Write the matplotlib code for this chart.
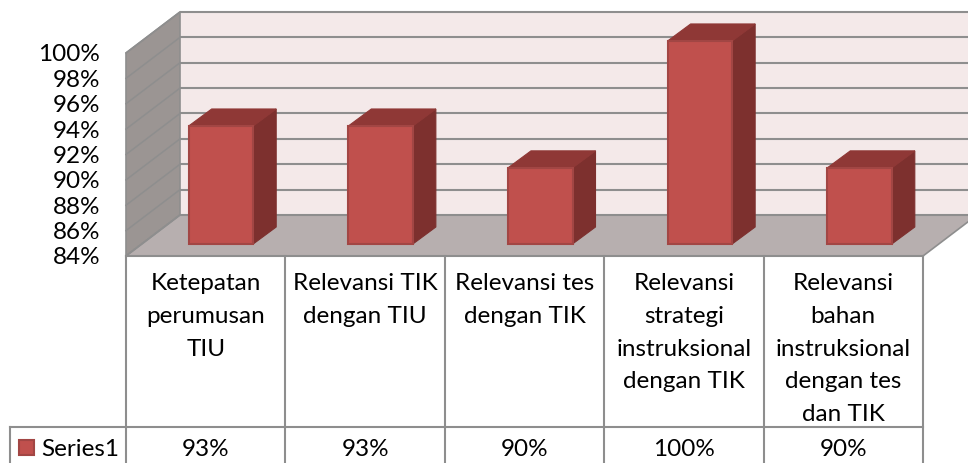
import matplotlib
matplotlib.use('Agg')
import matplotlib.pyplot as plt
from matplotlib.patches import Polygon, Rectangle

plt.rcParams['font.family'] = ['Lato', 'DejaVu Sans']

# data
categories = ['Ketepatan\nperumusan\nTIU', 'Relevansi TIK\ndengan TIU', 'Relevansi tes\ndengan TIK',
              'Relevansi\nstrategi\ninstruksional\ndengan TIK', 'Relevansi\nbahan\ninstruksional\ndengan tes\ndan TIK']
values = [93.3, 93.3, 90, 100, 90]
value_labels = ['93%', '93%', '90%', '100%', '90%']
ticks = [84, 86, 88, 90, 92, 94, 96, 98, 100]
series_name = 'Series1'

# warna
GRID = '#8e8e8e'
WALL = '#f4e9e9'
SIDE = '#9b9593'
FLOOR = '#b7afaf'
FRONT = '#c0504d'
EDGE = '#a24644'
TOP = '#8f3836'
RIGHT = '#7d302e'

# uklad w pikselach
LEFT = 126
COL_W = 159.4
BAR_STEP = 159.65
Y_BASE = 256
PX_PER_PCT = 12.69
DX, DY = 54, -41      # glebokosc podlogi
BAR_DX, BAR_DY = 23, -17
BAR_W = 64.5
BAR_OFF = 62.7
BAR_BASE = 244
TABLE_Y = 427
FS = 17.5


def val_y(v):
    return Y_BASE - (v - ticks[0]) * PX_PER_PCT


fig = plt.figure(figsize=(9.68, 4.63), dpi=100)
ax = fig.add_axes([0, 0, 1, 1])
ax.set_xlim(0, 968)
ax.set_ylim(463, 0)
ax.axis('off')

top_front = val_y(ticks[-1])
right = LEFT + COL_W * len(categories)

# sciany i podloga
ax.add_patch(Polygon([(LEFT + DX, top_front + DY), (1000, top_front + DY), (1000, Y_BASE + DY), (LEFT + DX, Y_BASE + DY)],
                     fc=WALL, ec='none'))
ax.add_patch(Polygon([(LEFT, top_front), (LEFT + DX, top_front + DY), (LEFT + DX, Y_BASE + DY), (LEFT, Y_BASE)],
                     fc=SIDE, ec=GRID, lw=1.2))
ax.add_patch(Polygon([(LEFT, Y_BASE), (LEFT + DX, Y_BASE + DY), (right + DX, Y_BASE + DY), (right, Y_BASE)],
                     fc=FLOOR, ec=GRID, lw=1.2))

# siatka
for t in ticks:
    y = val_y(t)
    ax.plot([LEFT + DX, 1000], [y + DY, y + DY], color=GRID, lw=1.5, solid_capstyle='butt', zorder=1.5)
    ax.plot([LEFT, LEFT + DX], [y, y + DY], color=GRID, lw=1.1, zorder=1.5)
    ax.text(100, y + 2, f'{t}%', ha='right', va='center', fontsize=FS, color='black')

# slupki
for i, v in enumerate(values):
    x0 = LEFT + BAR_STEP * i + BAR_OFF
    x1 = x0 + BAR_W
    y_top = BAR_BASE - (v - ticks[0]) * PX_PER_PCT
    ax.add_patch(Polygon([(x1, y_top), (x1 + BAR_DX, y_top + BAR_DY), (x1 + BAR_DX, BAR_BASE + BAR_DY), (x1, BAR_BASE)],
                         fc=RIGHT, ec=RIGHT, lw=0.8, zorder=3))
    ax.add_patch(Polygon([(x0, y_top), (x0 + BAR_DX, y_top + BAR_DY), (x1 + BAR_DX, y_top + BAR_DY), (x1, y_top)],
                         fc=TOP, ec=TOP, lw=0.8, zorder=3))
    ax.add_patch(Rectangle((x0, y_top), BAR_W, BAR_BASE - y_top, fc=FRONT, ec=EDGE, lw=1.5, zorder=3))

# tabela
ax.plot([LEFT, right], [Y_BASE, Y_BASE], color=GRID, lw=1.5)
ax.plot([10, right], [TABLE_Y, TABLE_Y], color=GRID, lw=1.5)
ax.plot([10, 10], [TABLE_Y, 463], color=GRID, lw=1.5)
for i in range(len(categories) + 1):
    x = LEFT + COL_W * i
    ax.plot([x, x], [Y_BASE, 463], color=GRID, lw=1.5)

for i, c in enumerate(categories):
    cx = LEFT + COL_W * (i + 0.5)
    for j, line in enumerate(c.split('\n')):
        ax.text(cx, 284 + j * 32.6, line, ha='center', va='center', fontsize=FS, color='black')
    ax.text(cx, 450, value_labels[i], ha='center', va='center', fontsize=FS, color='black')

# legenda
ax.add_patch(Rectangle((19, 440), 15, 15, fc=FRONT, ec=EDGE, lw=1.5))
ax.text(41, 449, series_name, ha='left', va='center', fontsize=FS, color='black')

fig.savefig('out.png', dpi=100)
